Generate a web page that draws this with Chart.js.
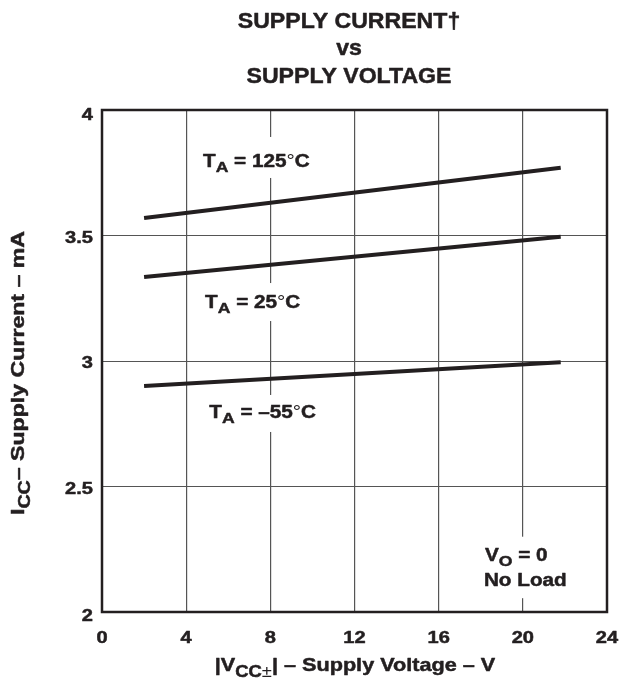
<!DOCTYPE html>
<html>
<head>
<meta charset="utf-8">
<script src="https://cdn.jsdelivr.net/npm/chart.js@4.4.1/dist/chart.umd.min.js"></script>
<style>
  html, body { margin: 0; padding: 0; background: #fff; }
  #wrap { width: 620px; height: 685px; position: relative; }
</style>
</head>
<body>
<div id="wrap"><canvas id="c" width="620" height="685"></canvas></div>
<script>
// ---- data ----
const voltage = [2, 21.8];                 // |VCC±| (V)
const current125 = [3.57, 3.77];           // TA = 125°C (mA)
const current25 = [3.335, 3.495];          // TA = 25°C (mA)
const currentM55 = [2.90, 2.995];          // TA = -55°C (mA)
const xTickLabels = ['0', '4', '8', '12', '16', '20', '24'];
const yTickLabels = ['2', '2.5', '3', '3.5', '4'];
const titleLines = ['SUPPLY CURRENT', 'vs', 'SUPPLY VOLTAGE'];

const FONT = '"Liberation Sans", Arial, Helvetica, sans-serif';
const INK = '#231f20';
const LBL = { size: 18, sx: 1.15 };

function toPoints(xs, ys) { return xs.map((x, i) => ({ x: x, y: ys[i] })); }

function partFont(p, size) {
  const s = p.sub ? size * 0.85 : size;
  return (p.weight || 'bold') + ' ' + s + 'px ' + FONT;
}
function measureRich(ctx, parts, size, sx) {
  let w = 0;
  parts.forEach(p => { ctx.font = partFont(p, size); w += ctx.measureText(p.t).width * sx; });
  return w;
}
function drawRich(ctx, parts, x, y, size, align, sx) {
  const total = measureRich(ctx, parts, size, sx);
  let cx = align === 'center' ? x - total / 2 : (align === 'right' ? x - total : x);
  ctx.textBaseline = 'alphabetic';
  ctx.textAlign = 'left';
  ctx.strokeStyle = INK;
  ctx.lineWidth = 0.5;
  ctx.lineJoin = 'round';
  parts.forEach(p => {
    ctx.font = partFont(p, size);
    const w = ctx.measureText(p.t).width * sx;
    const dy = p.sub ? size * 0.3 : 0;
    ctx.save();
    ctx.translate(cx, y + dy);
    ctx.scale(sx, 1);
    ctx.fillText(p.t, 0, 0);
    if ((p.weight || 'bold') === 'bold') ctx.strokeText(p.t, 0, 0);
    ctx.restore();
    cx += w;
  });
}

const labels = [
  { parts: [{ t: 'T' }, { t: 'A', sub: true }, { t: ' = 125' }, { t: '°', weight: 'normal' }, { t: 'C' }], x: 4.8, y: 3.773, gapUp: 30, gapDown: 11 },
  { parts: [{ t: 'T' }, { t: 'A', sub: true }, { t: ' = 25' }, { t: '°', weight: 'normal' }, { t: 'C' }], x: 4.9, y: 3.211, gapUp: 25, gapDown: 13 },
  { parts: [{ t: 'T' }, { t: 'A', sub: true }, { t: ' = –55' }, { t: '°', weight: 'normal' }, { t: 'C' }], x: 5.1, y: 2.773, gapUp: 23, gapDown: 14 }
];
const noteLines = [
  { parts: [{ t: 'V' }, { t: 'O', sub: true }, { t: ' = 0' }], x: 18.2, y: 2.205 },
  { parts: [{ t: 'No Load' }], x: 18.15, y: 2.105 }
];

const decor = {
  id: 'decor',
  beforeDatasetsDraw(chart) {
    const ctx = chart.ctx, xs = chart.scales.x, ys = chart.scales.y;
    ctx.save();
    ctx.fillStyle = '#fff';
    labels.forEach(l => {
      const px = xs.getPixelForValue(l.x), py = ys.getPixelForValue(l.y);
      const w = measureRich(ctx, l.parts, LBL.size, LBL.sx);
      ctx.fillRect(px - 3, py - l.gapUp, w + 6, l.gapUp + l.gapDown);
    });
    // gap around the note
    const nx = xs.getPixelForValue(18.0), ny1 = ys.getPixelForValue(2.3), ny2 = ys.getPixelForValue(2.055);
    ctx.fillRect(nx, ny1, xs.getPixelForValue(21.8) - nx, ny2 - ny1);
    ctx.restore();
  },
  afterDatasetsDraw(chart) {
    const ctx = chart.ctx, xs = chart.scales.x, ys = chart.scales.y, a = chart.chartArea;
    ctx.save();
    // frame
    ctx.strokeStyle = INK;
    ctx.lineWidth = 2.5;
    ctx.strokeRect(a.left, a.top, a.right - a.left, a.bottom - a.top);
    ctx.fillStyle = INK;
    // curve labels
    labels.forEach(l => drawRich(ctx, l.parts, xs.getPixelForValue(l.x), ys.getPixelForValue(l.y), LBL.size, 'left', LBL.sx));
    noteLines.forEach(l => drawRich(ctx, l.parts, xs.getPixelForValue(l.x), ys.getPixelForValue(l.y), LBL.size, 'left', LBL.sx));
    // tick labels
    xTickLabels.forEach(t => drawRich(ctx, [{ t: t }], xs.getPixelForValue(parseFloat(t)), a.bottom + 31, 17, 'center', 1.18));
    yTickLabels.forEach(t => drawRich(ctx, [{ t: t }], a.left - 9, ys.getPixelForValue(parseFloat(t)) + 7 + (t === '4' ? 3 : 0) + (t === '2' ? 2 : 0), 17, 'right', 1.18));
    // title
    const cx = 349;
    drawRich(ctx, [{ t: titleLines[0] }, { t: '†' }], cx, 28, 22, 'center', 1.05);
    drawRich(ctx, [{ t: titleLines[1] }], cx, 55, 22, 'center', 1.05);
    drawRich(ctx, [{ t: titleLines[2] }], cx, 83, 22, 'center', 1.05);
    // x axis title
    drawRich(ctx, [{ t: '|V' }, { t: 'CC', sub: true }, { t: '±', sub: true, weight: 'normal' }, { t: '| – Supply Voltage – V' }], 355, 671, 18.5, 'center', 1.17);
    // y axis title (rotated)
    ctx.save();
    ctx.translate(24, 373);
    ctx.rotate(-Math.PI / 2);
    drawRich(ctx, [{ t: 'I' }, { t: 'CC', sub: true }, { t: '– Supply Current – mA' }], 0, 0, 18.5, 'center', 1.25);
    ctx.restore();
    ctx.restore();
  }
};

const lineStyle = { borderColor: INK, borderWidth: 4, pointRadius: 0, fill: false, tension: 0, borderCapStyle: 'butt' };

new Chart(document.getElementById('c'), {
  type: 'line',
  data: {
    datasets: [
      Object.assign({ label: 'TA = 125°C', data: toPoints(voltage, current125) }, lineStyle),
      Object.assign({ label: 'TA = 25°C', data: toPoints(voltage, current25) }, lineStyle),
      Object.assign({ label: 'TA = –55°C', data: toPoints(voltage, currentM55) }, lineStyle)
    ]
  },
  options: {
    responsive: false,
    animation: false,
    devicePixelRatio: 1,
    layout: { padding: { left: 102, right: 13, top: 110, bottom: 73 } },
    plugins: { legend: { display: false }, title: { display: false }, tooltip: { enabled: false } },
    scales: {
      x: {
        type: 'linear', min: 0, max: 24,
        ticks: { display: false, stepSize: 4, padding: 0 },
        grid: { color: '#555', lineWidth: 1.2, drawTicks: false },
        border: { display: false }
      },
      y: {
        type: 'linear', min: 2, max: 4,
        ticks: { display: false, stepSize: 0.5, padding: 0 },
        grid: { color: '#555', lineWidth: 1, drawTicks: false },
        border: { display: false }
      }
    }
  },
  plugins: [decor]
});
</script>
</body>
</html>
